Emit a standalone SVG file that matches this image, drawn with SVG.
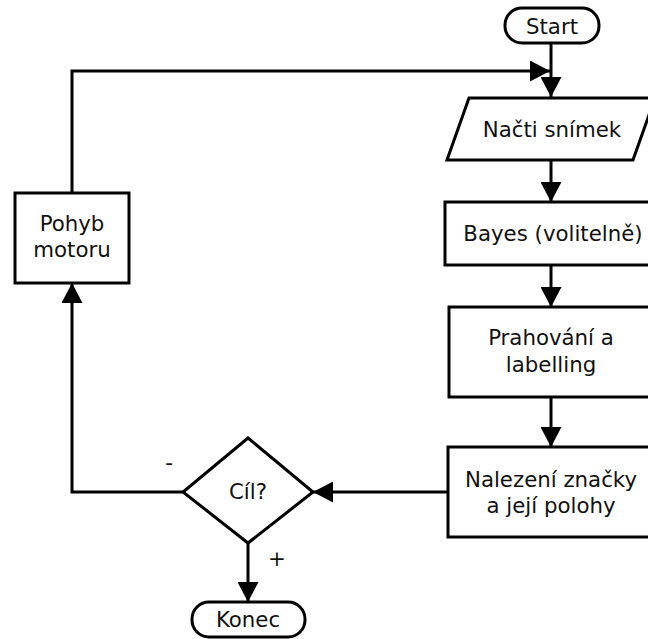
<svg xmlns="http://www.w3.org/2000/svg" width="648" height="639" viewBox="0 0 648 639">
  <defs>
    <marker id="arrow" markerUnits="userSpaceOnUse" markerWidth="21" markerHeight="21" refX="20" refY="10.5" orient="auto">
      <path d="M0,0 L20,10.5 L0,21 z" fill="#000"/>
    </marker>
    <style>
      .shape { fill: #fff; stroke: #000; stroke-width: 3; }
      .edge { fill: none; stroke: #000; stroke-width: 3; marker-end: url(#arrow); }
      text { font-family: "DejaVu Sans", "Liberation Sans", sans-serif; font-size: 21.3px; fill: #111; text-anchor: middle; }
    </style>
  </defs>

  <rect width="648" height="639" fill="#fff"/>

  <g id="connectors">
    <path class="edge" d="M551,43 L551,97"/>
    <path class="edge" d="M72,193 L72,71 L550,71"/>
    <path class="edge" d="M551,160 L551,202"/>
    <path class="edge" d="M551,265 L551,307"/>
    <path class="edge" d="M551,397 L551,447"/>
    <path class="edge" d="M448,492 L313,492"/>
    <path class="edge" d="M183,492 L72,492 L72,283"/>
    <path class="edge" d="M248,543 L248,602"/>
  </g>

  <g id="start">
    <rect class="shape" x="505" y="8" width="94" height="35" rx="17"/>
    <text x="552" y="34">Start</text>
  </g>

  <g id="nacti">
    <polygon class="shape" points="469,98 655,98 633,160 447,160"/>
    <text x="552" y="137">Načti snímek</text>
  </g>

  <g id="bayes">
    <rect class="shape" x="445" y="202" width="212" height="63"/>
    <text x="553" y="241">Bayes (volitelně)</text>
  </g>

  <g id="prahovani">
    <rect class="shape" x="449" y="307" width="204" height="90"/>
    <text x="551" y="345">Prahování a</text>
    <text x="551" y="372">labelling</text>
  </g>

  <g id="nalezeni">
    <rect class="shape" x="448" y="447" width="206" height="90"/>
    <text x="551" y="487">Nalezení značky</text>
    <text x="551" y="513">a její polohy</text>
  </g>

  <g id="cil">
    <polygon class="shape" points="248,438 313,492 248,543 183,492"/>
    <text x="248" y="499">Cíl?</text>
  </g>

  <g id="pohyb">
    <rect class="shape" x="15" y="193" width="114" height="90"/>
    <text x="72" y="231">Pohyb</text>
    <text x="72" y="257">motoru</text>
  </g>

  <g id="konec">
    <rect class="shape" x="192" y="602" width="113" height="35" rx="17"/>
    <text x="248" y="627">Konec</text>
  </g>

  <g id="labels">
    <text x="169" y="470">-</text>
    <text x="277" y="566">+</text>
  </g>
</svg>
